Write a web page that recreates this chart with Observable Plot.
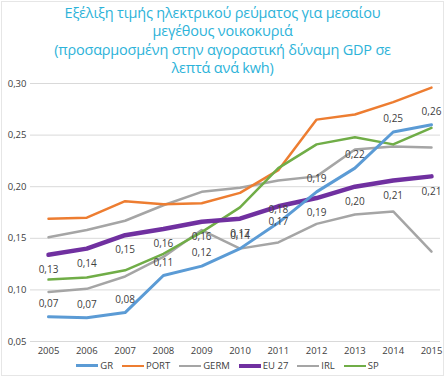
<!DOCTYPE html>
<html>
<head>
<meta charset="utf-8">
<script src="https://cdn.jsdelivr.net/npm/d3@7"></script>
<script src="https://cdn.jsdelivr.net/npm/@observablehq/plot@0.6"></script>
<style>
  html, body { margin: 0; padding: 0; background: #fff; }
  #wrap { position: relative; width: 445px; height: 377px; overflow: hidden; font-family: "Open Sans", sans-serif; }
  #title { position: absolute; left: 0; top: 4px; width: 445px; text-align: center; color: #2DB3D9; font-size: 14.5px; line-height: 18.3px; letter-spacing: -0.2px; }
  #legend { position: absolute; left: 0; top: 360px; width: 445px; display: flex; justify-content: center; gap: 9px; font-size: 9.5px; line-height: 11px; color: #404040; padding-left: 10px; box-sizing: border-box; }
  #legend .item { display: flex; align-items: center; gap: 2px; }
  #legend .sw { display: inline-block; width: 22px; }
  #frame { position: absolute; left: 1px; top: 1px; width: 441px; height: 373px; border: 1px solid #e6e6e6; pointer-events: none; }
</style>
</head>
<body>
<div id="wrap">
  <div id="chart"></div>
  <div id="title">Εξέλιξη τιμής ηλεκτρικού ρεύματος για μεσαίου<br>μεγέθους νοικοκυριά<br>(προσαρμοσμένη στην αγοραστική δύναμη GDP σε<br>λεπτά ανά kwh)</div>
  <div id="legend"></div>
  <div id="frame"></div>
</div>
<script>
const years = [2005, 2006, 2007, 2008, 2009, 2010, 2011, 2012, 2013, 2014, 2015];
const seriesNames = ["GR", "PORT", "GERM", "EU 27", "IRL", "SP"];
const GR   = [0.074, 0.073, 0.078, 0.114, 0.123, 0.140, 0.165, 0.195, 0.218, 0.253, 0.260];
const PORT = [0.169, 0.170, 0.186, 0.183, 0.184, 0.194, 0.216, 0.265, 0.270, 0.282, 0.296];
const GERM = [0.151, 0.158, 0.167, 0.182, 0.195, 0.199, 0.206, 0.210, 0.236, 0.239, 0.238];
const EU27 = [0.134, 0.140, 0.153, 0.159, 0.166, 0.169, 0.181, 0.189, 0.200, 0.206, 0.210];
const IRL  = [0.098, 0.101, 0.113, 0.132, 0.158, 0.140, 0.146, 0.164, 0.173, 0.176, 0.137];
const SP   = [0.110, 0.112, 0.119, 0.135, 0.156, 0.180, 0.218, 0.241, 0.248, 0.241, 0.257];
const grLabels = ["0,07", "0,07", "0,08", "0,11", "0,12", "0,14", "0,18", "0,19", "0,22", "0,25", "0,26"];
const euLabels = ["0,13", "0,14", "0,15", "0,16", "0,16", "0,17", "0,17", "0,19", "0,20", "0,21", "0,21"];
const yTicks = [0.05, 0.10, 0.15, 0.20, 0.25, 0.30];

const colors = {"GR": "#5B9BD5", "PORT": "#ED7D31", "GERM": "#A5A5A5", "EU 27": "#7030A0", "IRL": "#A5A5A5", "SP": "#70AD47"};
const widths = {"GR": 3, "PORT": 2.5, "GERM": 2.5, "EU 27": 4.5, "IRL": 2.5, "SP": 2.5};
const valuesBy = {"GR": GR, "PORT": PORT, "GERM": GERM, "EU 27": EU27, "IRL": IRL, "SP": SP};
const drawOrder = ["GERM", "IRL", "PORT", "SP", "EU 27", "GR"];

const rows = name => years.map((y, i) => ({year: y, value: valuesBy[name][i], series: name}));
const grRows = years.map((y, i) => ({year: y, value: GR[i], label: grLabels[i]}));
const euRows = years.map((y, i) => ({year: y, value: EU27[i], label: euLabels[i]}));

const fmt = d => d3.format(".2f")(d).replace(".", ",");

const plot = Plot.plot({
  width: 445,
  height: 377,
  marginTop: 83,
  marginBottom: 36,
  marginLeft: 30,
  marginRight: 5,
  style: {fontFamily: "Open Sans, sans-serif", fontSize: "9.5px", color: "#404040", background: "transparent"},
  x: {domain: [2004.53, 2015.235], ticks: years, tickFormat: d => String(d), tickSize: 0, tickPadding: 6, label: null},
  y: {domain: [0.05, 0.30], ticks: yTicks, tickFormat: fmt, tickSize: 0, tickPadding: 4, label: null},
  marks: [
    Plot.ruleY(yTicks, {stroke: "#d9d9d9", strokeWidth: 1}),
    ...drawOrder.map(name => Plot.line(rows(name), {x: "year", y: "value", stroke: colors[name], strokeWidth: widths[name], strokeLinejoin: "round", strokeLinecap: "round"})),
    Plot.text(grRows, {x: "year", y: "value", text: "label", dy: -13, fill: "#404040", fontSize: 10}),
    Plot.text(euRows, {x: "year", y: "value", text: "label", dy: 15, fill: "#404040", fontSize: 10})
  ]
});
document.getElementById("chart").appendChild(plot);

const legend = document.getElementById("legend");
for (const name of seriesNames) {
  const item = document.createElement("span");
  item.className = "item";
  const sw = document.createElement("span");
  sw.className = "sw";
  sw.style.borderTop = `${widths[name]}px solid ${colors[name]}`;
  const t = document.createElement("span");
  t.textContent = name;
  item.appendChild(sw);
  item.appendChild(t);
  legend.appendChild(item);
}
</script>
</body>
</html>
